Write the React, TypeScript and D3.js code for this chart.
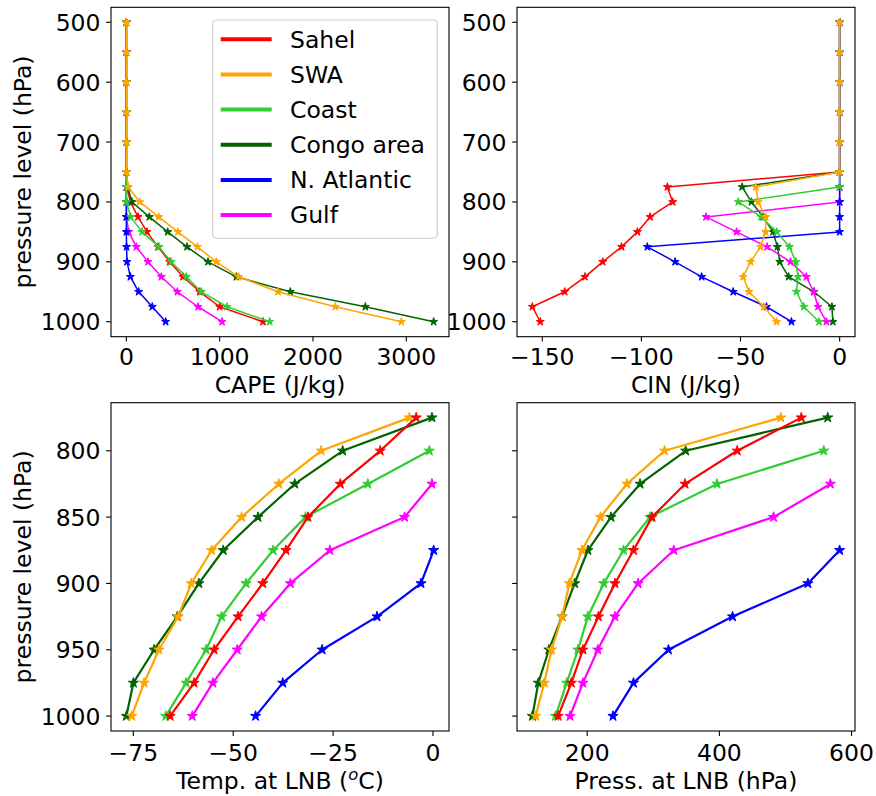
import React from 'react';
import * as d3 from 'd3';

// ---------- data ----------
const levelsTop = [500, 550, 600, 650, 700, 750, 775, 800, 825, 850, 875, 900, 925, 950, 975, 1000];
const levelsBottom = [775, 800, 825, 850, 875, 900, 925, 950, 975, 1000];

const seriesNames = ['Sahel', 'SWA', 'Coast', 'Congo area', 'N. Atlantic', 'Gulf'];
const seriesColors = ['#ff0000', '#ffa500', '#32cd32', '#006400', '#0000ff', '#ff00ff'];

// CAPE (J/kg) on levelsTop
const capeSahel = [0, 0, 0, 0, 0, 0, 5, 43, 125, 221, 339, 464, 607, 786, 1000, 1464];
const capeSWA = [0, 0, 0, 0, 0, 0, 20, 143, 346, 553, 761, 964, 1204, 1625, 2240, 2947];
const capeCoast = [0, 0, 0, 0, 0, 0, 0, 0, 46, 168, 350, 480, 643, 804, 1079, 1536];
const capeCongo = [0, 0, 0, 0, 0, 0, 15, 60, 246, 443, 650, 875, 1179, 1757, 2561, 3293];
const capeNA = [0, 0, 0, 0, 0, 0, 0, 0, 0, 0, 2, 7, 43, 132, 278, 421];
const capeGulf = [0, 0, 0, 0, 0, 0, 0, 0, 0, 25, 107, 232, 375, 546, 768, 1025];

// CIN (J/kg) on levelsTop
const cinSahel = [0, 0, 0, 0, 0, 0, -86.9, -84.2, -95.6, -102, -110, -119.5, -128.5, -138.7, -155, -151];
const cinSWA = [0, 0, 0, 0, 0, 0, -42.3, -41.1, -37.3, -37.3, -39.9, -44.9, -48.7, -45.7, -38.3, -31.8];
const cinCoast = [0, 0, 0, 0, 0, 0, 0, -51.1, -39.6, -31.7, -25.3, -22.1, -21, -21.8, -18.1, -10.4];
const cinCongo = [0, 0, 0, 0, 0, 0, -49.2, -44.5, -38.6, -33.6, -31.4, -30.2, -25.7, -12.9, -3.9, -3.4];
const cinNA = [0, 0, 0, 0, 0, 0, 0, 0, 0, 0, -97, -83, -69.6, -53.7, -36.9, -24.3];
const cinGulf = [0, 0, 0, 0, 0, 0, 0, 0, -67.4, -52, -36.6, -24.8, -16.8, -13.1, -10.9, -6.7];

// Temperature at LNB (°C) on levelsBottom
const tempSahel = [-4.2, -13.2, -23.2, -31.3, -36.8, -42.6, -48.8, -54.8, -59.8, -65.8];
const tempSWA = [-5.9, -28, -38.6, -47.9, -55.4, -60.5, -63.8, -68.6, -72.3, -75.4];
const tempCoast = [null, -0.9, -16.3, -31.9, -40, -46.8, -52.9, -56.8, -61.8, -66.9];
const tempCongo = [-0.25, -22.6, -34.6, -43.8, -52.5, -58.6, -64, -69.8, -75, -76.75];
const tempNA = [null, null, null, null, 0.17, -3, -14, -27.75, -37.6, -44.4];
const tempGulf = [null, null, -0.25, -7.1, -25.8, -35.7, -42.9, -49, -55.1, -60.25];

// Pressure at LNB (hPa) on levelsBottom
const pressSahel = [524, 427, 348, 298, 270, 242, 217, 193.5, 176, 156];
const pressSWA = [493, 317, 260, 220, 192, 173, 162, 146, 135, 122];
const pressCoast = [null, 558, 396.5, 295, 255, 225, 201, 186, 169, 152];
const pressCongo = [564, 349, 280, 236, 201, 181, 162, 142, 126, 117];
const pressNA = [null, null, null, null, 582, 534, 420, 323, 270, 239];
const pressGulf = [null, null, 568, 482, 331, 277, 242, 216, 193.5, 174];

// ticks
const yTicksTop = [500, 600, 700, 800, 900, 1000];
const yTicksBottom = [800, 850, 900, 950, 1000];
const capeTicks = [0, 1000, 2000, 3000];
const cinTicks = [-150, -100, -50, 0];
const tempTicks = [-75, -50, -25, 0];
const pressTicks = [200, 400, 600];

const FONT = "'DejaVu Sans', sans-serif";
const FS = 23.5;

function pad(ext: [number, number]): [number, number] {
  const m = (ext[1] - ext[0]) * 0.05;
  return [ext[0] - m, ext[1] + m];
}
const fmt = (v: number) => String(v).replace('-', '\u2212');

type PanelProps = {
  left: number; right: number; top: number; bottom: number;
  series: (number | null)[][];
  levels: number[];
  xTicks: number[]; yTicks: number[];
  showYLabels: boolean;
  order: number[];
  lw: number; starSize: number;
  tickLabelDy: number;
};

function Panel(p: PanelProps) {
  const all = p.series.flat().filter((v) => v != null) as number[];
  const x = d3.scaleLinear().domain(pad(d3.extent(all) as [number, number])).range([p.left, p.right]);
  const y = d3.scaleLinear().domain(pad(d3.extent(p.levels) as [number, number])).range([p.top, p.bottom]);
  const star = d3.symbol().type(d3.symbolStar).size(p.starSize)() as string;
  return (
    <g>
      {p.order.map((si) => {
        const pts = p.series[si]
          .map((v, i) => (v == null ? null : [x(v), y(p.levels[i])]))
          .filter((d) => d != null) as [number, number][];
        const line = d3.line()(pts) as string;
        return (
          <g key={si}>
            <path d={line} fill="none" stroke={seriesColors[si]} strokeWidth={p.lw} strokeLinejoin="round" />
            {pts.map((pt, i) => (
              <path key={i} d={star} transform={`translate(${pt[0]},${pt[1]})`} fill={seriesColors[si]}
                stroke={seriesColors[si]} strokeWidth={1} strokeLinejoin="miter" />
            ))}
          </g>
        );
      })}
      <rect x={p.left} y={p.top} width={p.right - p.left} height={p.bottom - p.top} fill="none" stroke="#000" strokeWidth={1.1} />
      {p.xTicks.map((t) => (
        <g key={'x' + t}>
          <line x1={x(t)} x2={x(t)} y1={p.bottom} y2={p.bottom + 4.9} stroke="#000" strokeWidth={1.1} />
          <text x={x(t)} y={p.bottom + p.tickLabelDy} textAnchor="middle" fontFamily={FONT} fontSize={FS} fill="#000">{fmt(t)}</text>
        </g>
      ))}
      {p.yTicks.map((t) => (
        <g key={'y' + t}>
          <line x1={p.left - 4.9} x2={p.left} y1={y(t)} y2={y(t)} stroke="#000" strokeWidth={1.1} />
          {p.showYLabels && (
            <text x={p.left - 10.5} y={y(t) + 8.5} textAnchor="end" fontFamily={FONT} fontSize={FS} fill="#000">{fmt(t)}</text>
          )}
        </g>
      ))}
    </g>
  );
}

export default function App() {
  const capeSeries = [capeSahel, capeSWA, capeCoast, capeCongo, capeNA, capeGulf];
  const cinSeries = [cinSahel, cinSWA, cinCoast, cinCongo, cinNA, cinGulf];
  const tempSeries = [tempSahel, tempSWA, tempCoast, tempCongo, tempNA, tempGulf];
  const pressSeries = [pressSahel, pressSWA, pressCoast, pressCongo, pressNA, pressGulf];
  const topOrder = [0, 3, 5, 4, 2, 1];
  const bottomOrder = [3, 1, 2, 0, 5, 4];

  const L1 = 111, R1 = 449, L2 = 517, R2 = 855;
  const T1 = 7.3, B1 = 336.7, T2 = 402.7, B2 = 731;

  return (
    <svg width={876} height={796} style={{ position: 'absolute', left: 0, top: 0, background: '#fff' }}>
      <rect x={0} y={0} width={876} height={796} fill="#fff" />
      <Panel left={L1} right={R1} top={T1} bottom={B1} series={capeSeries} levels={levelsTop}
        xTicks={capeTicks} yTicks={yTicksTop} showYLabels order={topOrder} lw={1.5} starSize={20} tickLabelDy={28.3} />
      <Panel left={L2} right={R2} top={T1} bottom={B1} series={cinSeries} levels={levelsTop}
        xTicks={cinTicks} yTicks={yTicksTop} showYLabels order={topOrder} lw={1.5} starSize={20} tickLabelDy={28.3} />
      <Panel left={L1} right={R1} top={T2} bottom={B2} series={tempSeries} levels={levelsBottom}
        xTicks={tempTicks} yTicks={yTicksBottom} showYLabels order={bottomOrder} lw={2.2} starSize={32} tickLabelDy={29.7} />
      <Panel left={L2} right={R2} top={T2} bottom={B2} series={pressSeries} levels={levelsBottom}
        xTicks={pressTicks} yTicks={yTicksBottom} showYLabels={false} order={bottomOrder} lw={2.2} starSize={32} tickLabelDy={29.7} />

      {/* axis labels */}
      <text transform={`translate(31,${(T1 + B1) / 2}) rotate(-90)`} textAnchor="middle" fontFamily={FONT} fontSize={FS}>pressure level (hPa)</text>
      <text transform={`translate(31,${(T2 + B2) / 2}) rotate(-90)`} textAnchor="middle" fontFamily={FONT} fontSize={FS}>pressure level (hPa)</text>
      <text x={(L1 + R1) / 2} y={B1 + 56.3} textAnchor="middle" fontFamily={FONT} fontSize={FS}>CAPE (J/kg)</text>
      <text x={(L2 + R2) / 2} y={B1 + 56.3} textAnchor="middle" fontFamily={FONT} fontSize={FS}>CIN (J/kg)</text>
      <text x={(L1 + R1) / 2} y={B2 + 57.7} textAnchor="middle" fontFamily={FONT} fontSize={FS}>
        Temp. at LNB (<tspan fontStyle="italic" fontSize={16.5} dy={-9}>o</tspan><tspan dy={9}>C)</tspan>
      </text>
      <text x={(L2 + R2) / 2} y={B2 + 57.7} textAnchor="middle" fontFamily={FONT} fontSize={FS}>Press. at LNB (hPa)</text>

      {/* legend */}
      <rect x={212.7} y={20} width={224.6} height={218.3} rx={4} fill="#fff" fillOpacity={0.8} stroke="#cccccc" strokeWidth={1.1} />
      {seriesNames.map((n, i) => {
        const cy = 39.3 + i * 35.15;
        return (
          <g key={n}>
            <line x1={220.7} x2={271.7} y1={cy} y2={cy} stroke={seriesColors[i]} strokeWidth={4} />
            <text x={290} y={cy + 8.4} fontFamily={FONT} fontSize={FS} fill="#000">{n}</text>
          </g>
        );
      })}
    </svg>
  );
}
